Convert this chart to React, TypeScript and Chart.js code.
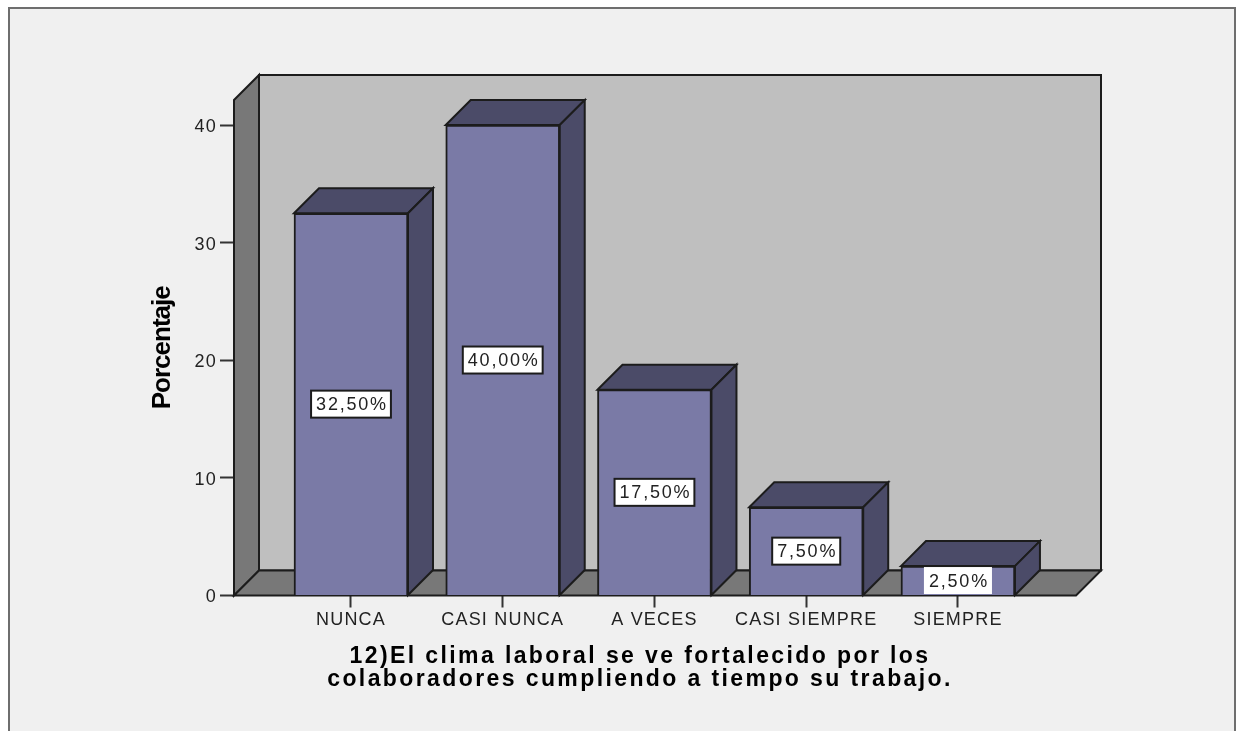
import React, { useEffect, useRef } from "react";
import { Chart, registerables } from "chart.js";

Chart.register(...registerables);

const categories = ["NUNCA", "CASI NUNCA", "A VECES", "CASI SIEMPRE", "SIEMPRE"];
const percentages = [32.5, 40, 17.5, 7.5, 2.5];
const yTicks = [0, 10, 20, 30, 40];
const xTitle = [
  "12)El clima laboral se ve fortalecido por los",
  "colaboradores cumpliendo a tiempo su trabajo.",
];
const yTitle = "Porcentaje";

const DEPTH = 25;
const INK = "#1c1c1c";
const PAGE = "#f0f0f0";
const WALL = "#bfbfbf";
const SIDE = "#787878";
const FRONT = "#7a7aa6";
const SHADE = "#4b4b68";

function poly(ctx: CanvasRenderingContext2D, pts: number[][], fill: string) {
  ctx.beginPath();
  pts.forEach((p, i) => (i ? ctx.lineTo(p[0], p[1]) : ctx.moveTo(p[0], p[1])));
  ctx.closePath();
  ctx.fillStyle = fill;
  ctx.fill();
  ctx.lineWidth = 2;
  ctx.strokeStyle = INK;
  ctx.lineJoin = "miter";
  ctx.stroke();
}

const spaced = (scale: any, name: string, ctx: any, spacing: string, dy = 0) => {
  const original = scale[name].bind(scale);
  scale[name] = (...args: any[]) => {
    ctx.save();
    ctx.translate(0, dy);
    ctx.letterSpacing = spacing;
    original(...args);
    ctx.letterSpacing = "0px";
    ctx.restore();
  };
};

const scene = {
  id: "scene",
  afterLayout(chart: any) {
    const { x, y } = chart.scales;
    const ctx = chart.ctx;
    x.right -= 30; // the x title sits left of the plot centre
    spaced(x, "drawTitle", ctx, "2.4px");
    spaced(x, "drawLabels", ctx, "1.2px");
    spaced(y, "drawLabels", ctx, "1.2px", 2);
    spaced(y, "drawTitle", ctx, "-1px");
  },
  beforeDraw(chart: any) {
    const ctx = chart.ctx;
    ctx.save();
    ctx.fillStyle = "#ffffff";
    ctx.fillRect(0, 0, chart.width, chart.height);
    ctx.fillStyle = PAGE;
    ctx.fillRect(10, 9, 1225, chart.height);
    ctx.strokeStyle = "#6e6e6e";
    ctx.lineWidth = 2;
    ctx.beginPath();
    ctx.moveTo(9, chart.height);
    ctx.lineTo(9, 8);
    ctx.lineTo(1235, 8);
    ctx.lineTo(1235, chart.height);
    ctx.stroke();
    ctx.restore();
  },
  beforeDatasetsDraw(chart: any) {
    const ctx = chart.ctx;
    const { left, right, top, bottom } = chart.chartArea;
    ctx.save();
    poly(ctx, [[left + DEPTH, top - DEPTH], [right + DEPTH, top - DEPTH], [right + DEPTH, bottom - DEPTH], [left + DEPTH, bottom - DEPTH]], WALL);
    poly(ctx, [[left, top], [left + DEPTH, top - DEPTH], [left + DEPTH, bottom - DEPTH], [left, bottom]], SIDE);
    poly(ctx, [[left, bottom], [left + DEPTH, bottom - DEPTH], [right + DEPTH, bottom - DEPTH], [right, bottom]], SIDE);
    chart.getDatasetMeta(0).data.forEach((bar: any) => {
      const l = bar.x - bar.width / 2;
      const r = bar.x + bar.width / 2;
      poly(ctx, [[l, bar.y], [l + DEPTH, bar.y - DEPTH], [r + DEPTH, bar.y - DEPTH], [r, bar.y]], SHADE);
      poly(ctx, [[r, bar.y], [r + DEPTH, bar.y - DEPTH], [r + DEPTH, bar.base - DEPTH], [r, bar.base]], SHADE);
    });
    ctx.restore();
  },
  afterDatasetsDraw(chart: any) {
    const ctx = chart.ctx;
    ctx.save();
    ctx.font = "18px 'Liberation Sans'";
    ctx.textAlign = "center";
    ctx.textBaseline = "middle";
    (ctx as any).letterSpacing = "1.8px";
    chart.getDatasetMeta(0).data.forEach((bar: any, i: number) => {
      const label = percentages[i].toFixed(2).replace(".", ",") + "%";
      const w = ctx.measureText(label).width + 8;
      const cy = (bar.y + bar.base) / 2;
      const h = 27;
      const top = Math.min(cy - h / 2, bar.base - h);
      ctx.fillStyle = "#ffffff";
      ctx.fillRect(bar.x - w / 2, top, w, h);
      if (bar.base - bar.y > h + 4) {
        ctx.strokeStyle = INK;
        ctx.lineWidth = 2;
        ctx.strokeRect(bar.x - w / 2, top, w, h);
      }
      ctx.fillStyle = "#222222";
      ctx.fillText(label, bar.x + 1, top + h / 2 + 1);
    });
    ctx.restore();
  },
};

export default function App() {
  const ref = useRef<HTMLCanvasElement | null>(null);
  useEffect(() => {
    const chart = new Chart(ref.current as HTMLCanvasElement, {
      type: "bar",
      data: {
        labels: categories,
        datasets: [
          {
            label: "Porcentaje",
            data: percentages.map((v, i) => ({ x: i, y: v })),
            backgroundColor: FRONT,
            borderColor: INK,
            borderWidth: 2,
            barThickness: 114,
          },
        ],
      },
      options: {
        animation: false,
        responsive: false,
        layout: { padding: { left: 150, right: 162, top: 100, bottom: 0 } },
        plugins: { legend: { display: false }, tooltip: { enabled: false }, title: { display: false } },
        scales: {
          x: {
            type: "linear",
            offset: false,
            min: -0.771,
            max: 4.778,
            afterFit: (s: any) => { s.height = 135.5; },
            afterBuildTicks: (s: any) => { s.ticks = categories.map((_, i) => ({ value: i })); },
            border: { display: false },
            grid: { offset: false, drawOnChartArea: false, drawTicks: true, tickLength: 12, tickWidth: 2, tickColor: "#333333" },
            ticks: {
              padding: 2,
              maxRotation: 0,
              autoSkip: false,
              color: "#222222",
              font: { family: "'Liberation Sans'", size: 18 },
              callback: (v: any) => categories[v],
            },
            title: {
              display: true,
              text: xTitle,
              color: "#000000",
              font: { family: "'Liberation Sans'", size: 23, weight: "bold", lineHeight: 1 },
              padding: { top: 0, bottom: 39.5 },
            },
          },
          y: {
            min: 0,
            max: 42.13,
            afterFit: (s: any) => { s.width = 84; },
            afterBuildTicks: (s: any) => { s.ticks = yTicks.map((value) => ({ value })); },
            border: { display: false },
            grid: { drawOnChartArea: false, drawTicks: true, tickLength: 14, tickWidth: 2, tickColor: "#333333" },
            ticks: { padding: 3, color: "#222222", font: { family: "'Liberation Sans'", size: 18 } },
            title: {
              display: true,
              text: yTitle,
              color: "#000000",
              font: { family: "'Liberation Sans'", size: 26, weight: "bold", lineHeight: 1 },
              padding: 0,
            },
          },
        },
      },
      plugins: [scene],
    } as any);
    return () => chart.destroy();
  }, []);
  return (
    <canvas
      ref={ref}
      width={1238}
      height={731}
      style={{ position: "fixed", left: 0, top: 0, width: 1238, height: 731, filter: "blur(0.5px)" }}
    />
  );
}
